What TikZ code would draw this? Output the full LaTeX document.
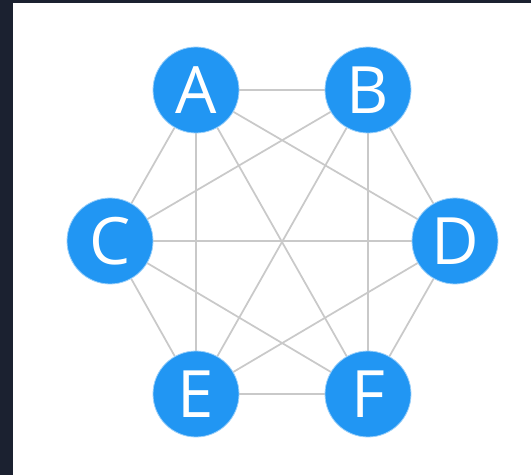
\documentclass[tikz,border=0pt]{standalone}
\usepackage{fontspec}
\setsansfont{Open Sans}
\usetikzlibrary{backgrounds}
\definecolor{nodeblue}{HTML}{2196F3}
\definecolor{edgegray}{HTML}{C9C9C9}
\definecolor{frame}{HTML}{1B2130}
\newcommand{\Letter}{\fontsize{49}{58}\selectfont}
\tikzset{
  vert/.style={circle, fill=nodeblue, draw=nodeblue!45!white, line width=0.6pt,
    minimum size=64.5pt, inner sep=0pt, text=white, font=\sffamily\Letter},
  link/.style={draw=edgegray, line width=1.3pt}
}

\begin{document}
\begin{tikzpicture}[x=0.75pt,y=-0.75pt]
  \useasboundingbox (0,0) rectangle (531,475);
  % six vertices of a regular hexagon
  \foreach \nm/\px/\py in {A/196/90, B/368/90, C/110/241, D/455/241, E/196/394, F/368/394}{
    \node[vert] (\nm) at (\px,\py) {\nm};
  }
  \begin{scope}[on background layer]
    \fill[frame] (0,0) rectangle (531,475);
    \fill[white] (13,3) rectangle (531,475);
    % every pair is joined
    \foreach \u/\v in {A/B, A/C, A/D, A/E, A/F, B/C, B/D, B/E, B/F,
                       C/D, C/E, C/F, D/E, D/F, E/F}{
      \draw[link] (\u) -- (\v);
    }
  \end{scope}
\end{tikzpicture}
\end{document}
